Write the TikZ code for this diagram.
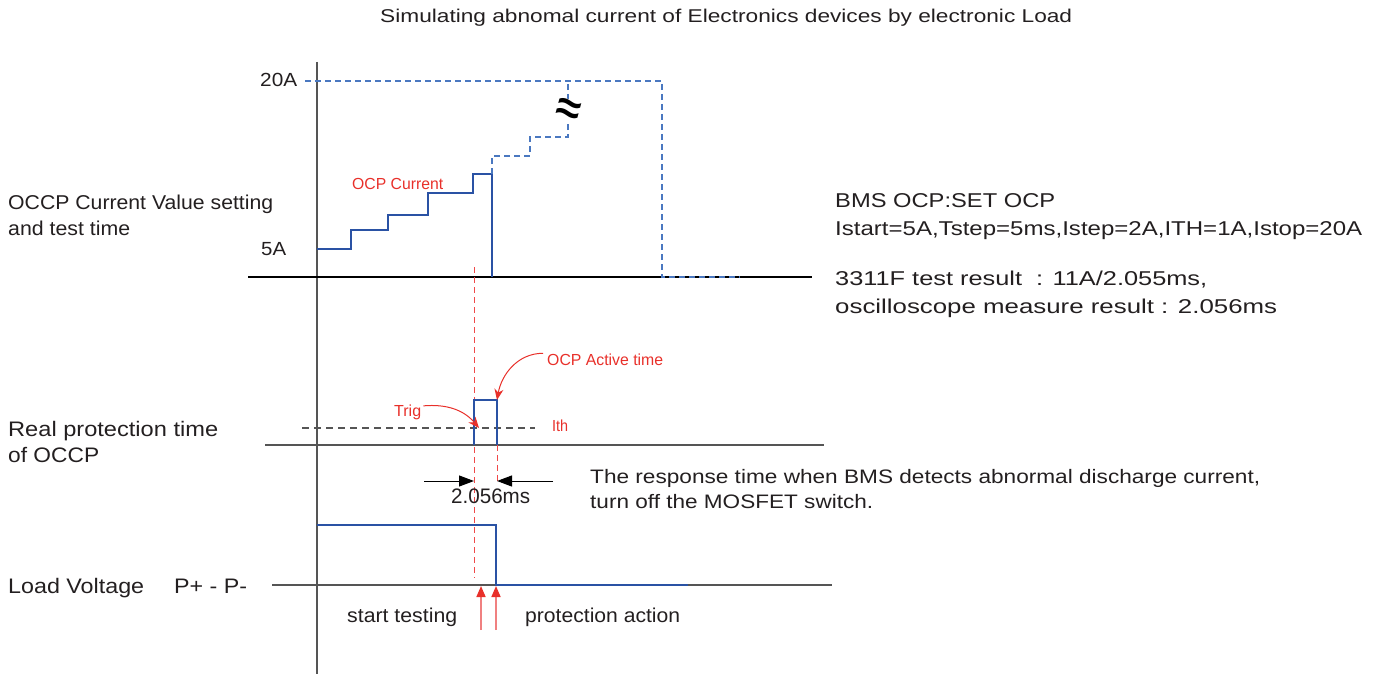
\documentclass[tikz,border=0pt]{standalone}
\usepackage{fontspec}
\setmainfont{Liberation Sans}
\usetikzlibrary{arrows.meta}
\newsavebox\fwbox
\newlength\fwlen
\newcommand\fw[2]{\sbox\fwbox{#2}\setlength\fwlen{\wd\fwbox}\pgfmathsetmacro\fwr{#1/\fwlen}\scalebox{\fwr}[1]{\usebox\fwbox}}
\newcommand\fs[1]{\fontsize{#1}{#1}\selectfont}
\definecolor{bl}{HTML}{2A52A4}
\definecolor{bld}{HTML}{4A78C0}
\definecolor{rd}{HTML}{E8302A}
\definecolor{rdl}{HTML}{F04848}
\definecolor{rdp}{HTML}{F08080}
\definecolor{ax}{HTML}{555555}
\definecolor{txt}{HTML}{231F20}
\tikzset{
  lab/.style={inner sep=0pt, anchor=base west, text=txt},
  rlab/.style={inner sep=0pt, anchor=base west, text=rd},
  axisline/.style={ax, line width=1.2pt},
  sig/.style={bl, line width=1.3pt},
  sigdash/.style={bld, line width=1.2pt, dash pattern=on 6pt off 4pt},
  reddash/.style={rdl, line width=1pt, dash pattern=on 6pt off 4pt},
  callout/.style={rd, line width=1pt, -{Stealth[length=11pt,width=9pt]}},
  dimarrow/.style={black, line width=1pt, -{Triangle[length=15pt,width=11pt]}},
  uparrow/.style={rdp, line width=1.6pt, -{Triangle[length=11pt,width=9pt,color=rd]}}
}
\begin{document}
\begin{tikzpicture}[x=1pt,y=-1pt]
\useasboundingbox (0,0) rectangle (1375,674);

% title
\node[lab] (title) at (380,23) {\fs{18.5}\fw{692}{Simulating abnomal current of Electronics devices by electronic Load}};

% axes
\coordinate (vtop) at (317,62);
\coordinate (vbot) at (317,674);
\draw[ax, line width=1.6pt] (vtop) -- (vbot);
\coordinate (a1l) at (248,277); \coordinate (a1r) at (812,277);
\draw[black, line width=1.2pt] (a1l) -- (a1r);
\coordinate (a2l) at (265,445); \coordinate (a2r) at (824,445);
\draw[axisline] (a2l) -- (a2r);
\coordinate (a3l) at (272,585); \coordinate (a3r) at (832,585);
\draw[axisline] (a3l) -- (a3r);

% staircase current
\draw[sig] (317,249) -| (351,230) -| (388,215) -| (428,193) -| (473,174) -| (492,277);
\draw[sigdash] (492,174) |- (530,156) |- (568,137) -- (568,81);
\draw[sigdash] (305,81) -- (662,81) -- (662,277) -- (740,277);
\node[fill=white, inner sep=0pt, rotate=-15] (approx) at (568,111) {\fs{44}\textbf{≈}};

% labels of top panel
\node[lab] (l20) at (260,87) {\fs{19}\fw{37}{20A}};
\node[lab] (l5) at (261,255) {\fs{19}\fw{25}{5A}};
\node[rlab] (ocpc) at (352,189) {\fs{16}\fw{91}{OCP Current}};

% red dashed markers
\draw[reddash] (474,267) -- (474,578);
\draw[reddash] (497,445) -- (497,482);

% real protection panel
\draw[ax, line width=1.2pt, dash pattern=on 7pt off 5pt] (302,428) -- (535,428);
\draw[bl, line width=1.2pt] (474,445) |- (497,400) -- (497,445);
\node[rlab] (ith) at (552,431) {\fs{16}\fw{16}{Ith}};
\node[rlab] (trig) at (394,416) {\fs{16}\fw{27}{Trig}};
\node[rlab] (active) at (547,365) {\fs{16}\fw{116}{OCP Active time}};
\coordinate (trigtip) at (479,428);
\coordinate (acttip) at (497,400);
\draw[callout] (trig.east) ++(2,-6) to[out=5,in=130] (trigtip);
\draw[callout] (active.west) ++(-4,-6) to[out=180,in=80] (acttip);

% dimension
\coordinate (d1) at (424,481); \coordinate (d1t) at (474,481);
\coordinate (d2) at (553,481); \coordinate (d2t) at (497,481);
\draw[dimarrow] (d1) -- (d1t);
\draw[dimarrow] (d2) -- (d2t);
\node[lab] (dim) at (451,503) {\fs{21}\fw{79}{2.056ms}};
\node[lab] (resp1) at (590,483) {\fs{19.5}\fw{670}{The response time when BMS detects abnormal discharge current,}};
\node[lab] (resp2) at (590,508) {\fs{19.5}\fw{283}{turn off the MOSFET switch.}};

% load voltage
\draw[bl, line width=2pt] (317,525) -| (496,585) -- (688,585);
\coordinate (u1b) at (481,630); \coordinate (u1t) at (481,586);
\coordinate (u2b) at (496,630); \coordinate (u2t) at (496,586);
\draw[uparrow] (u1b) -- (u1t);
\draw[uparrow] (u2b) -- (u2t);
\node[lab] (start) at (347,622) {\fs{20}\fw{110}{start testing}};
\node[lab] (prot) at (525,622) {\fs{20}\fw{155}{protection action}};

% left labels
\node[lab] (occp1) at (8,209) {\fs{20}\fw{265}{OCCP Current Value setting}};
\node[lab] (occp2) at (8,235) {\fs{20}\fw{122}{and test time}};
\node[lab] (real1) at (8,436) {\fs{21}\fw{210}{Real protection time}};
\node[lab] (real2) at (8,462) {\fs{21}\fw{91}{of OCCP}};
\node[lab] (load1) at (8,593) {\fs{21}\fw{136}{Load Voltage}};
\node[lab] (load2) at (174,593) {\fs{21}\fw{73}{P+ - P-}};

% right labels
\node[lab] (bms1) at (835,207) {\fs{20}\fw{220}{BMS OCP:SET OCP}};
\node[lab] (bms2) at (835,235) {\fs{20}\fw{527}{Istart=5A,Tstep=5ms,Istep=2A,ITH=1A,Istop=20A}};
\node[lab] (res1) at (835,285) {\fs{20}\fw{372}{3311F test result\ \ : 11A/2.055ms,}};
\node[lab] (res2) at (835,313) {\fs{20}\fw{442}{oscilloscope measure result : 2.056ms}};
\end{tikzpicture}
\end{document}
